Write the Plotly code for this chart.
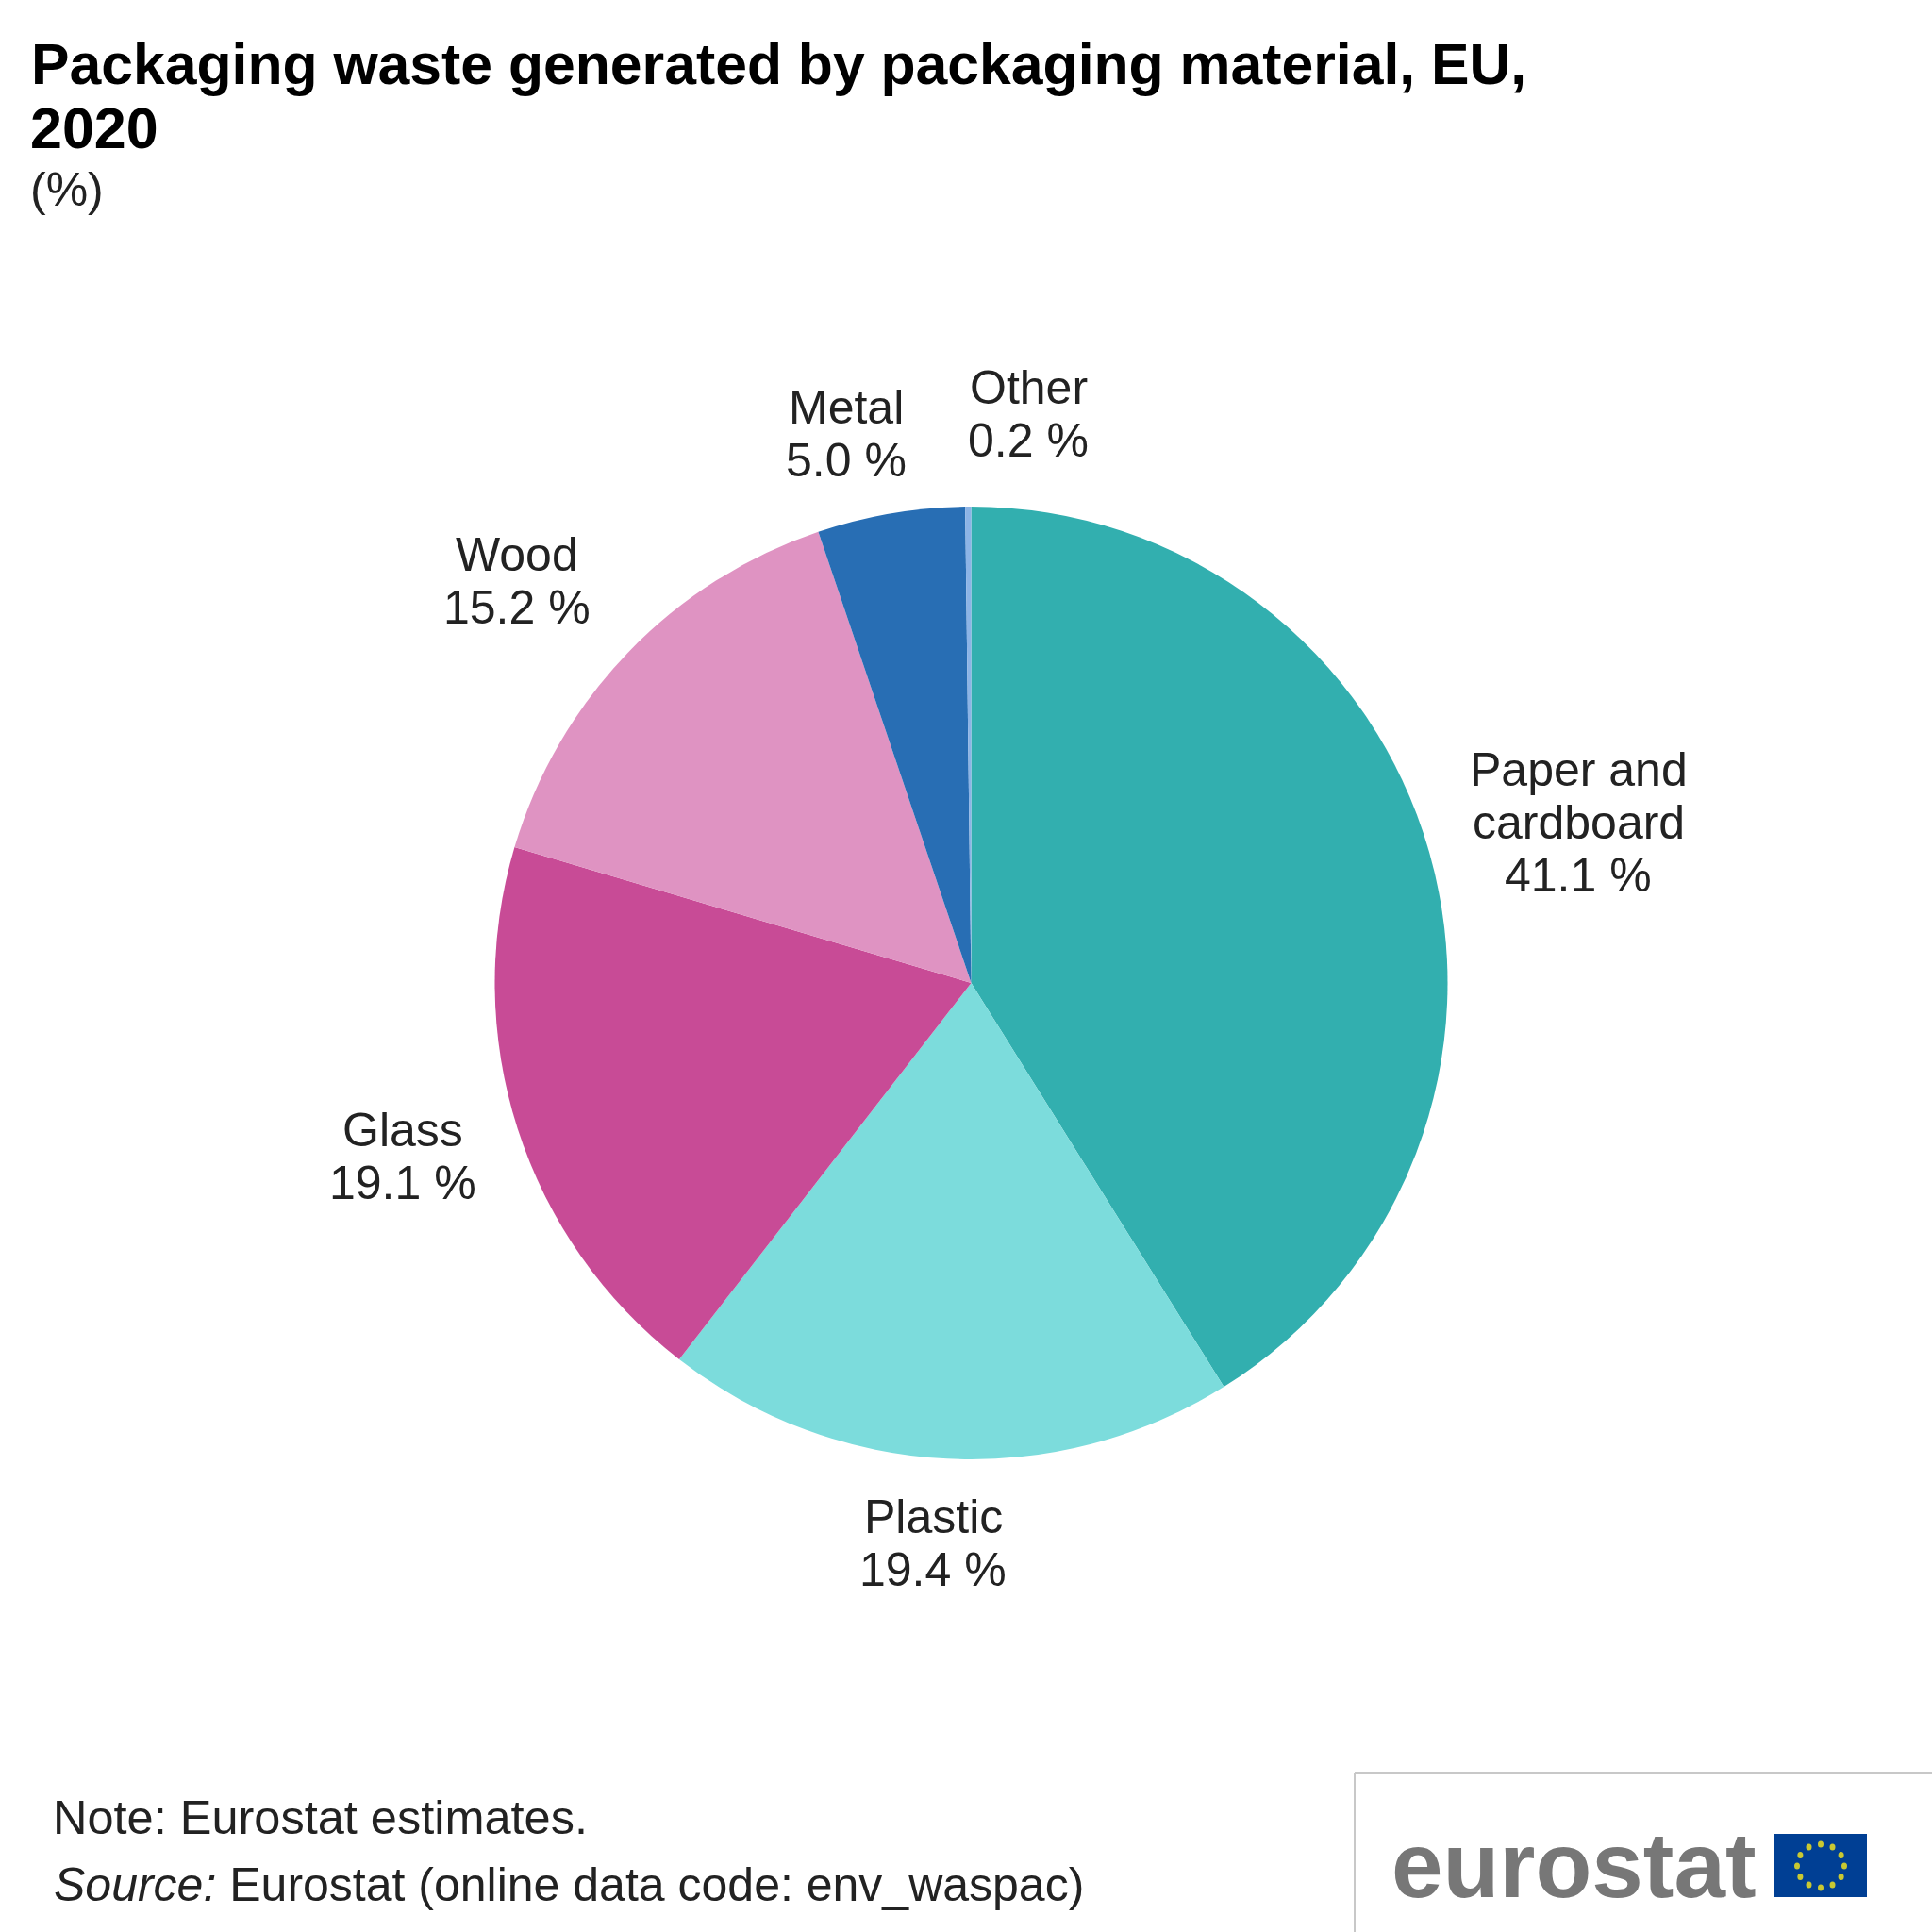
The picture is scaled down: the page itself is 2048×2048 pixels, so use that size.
import math
import plotly.graph_objects as go

SIZE = 2048
categories = ["Paper and<br>cardboard", "Plastic", "Glass", "Wood", "Metal", "Other"]
values = [41.1, 19.4, 19.1, 15.2, 5.0, 0.2]
colors = ["#32afaf", "#7cdcdc", "#c84b96", "#df93c2", "#286eb4", "#8cb4e6"]
label_x = [1673, 989, 427, 548, 897, 1090]
label_y = [872, 1636, 1226, 616, 460, 439]

title_line1 = "Packaging waste generated by packaging material, EU,"
title_line2 = "2020"
unit = "(%)"
note = "Note: Eurostat estimates."
source = "<i>Source:</i> Eurostat (online data code: env_waspac)"

FONT = "Liberation Sans"
cx, cy, r = 1029.5, 1042, 505
LINE = 56


def px(x):
    return x / SIZE


def py(y):
    return 1 - y / SIZE


fig = go.Figure(go.Pie(
    labels=[c.replace("<br>", " ") for c in categories],
    values=values,
    sort=False,
    direction="clockwise",
    rotation=0,
    marker=dict(colors=colors, line=dict(color="#ffffff", width=0)),
    textinfo="none",
    hoverinfo="label+percent",
    domain=dict(x=[px(cx - r), px(cx + r)], y=[py(cy + r), py(cy - r)]),
    showlegend=False,
))

annotations = []
for c, v, x, y in zip(categories, values, label_x, label_y):
    lines = c.split("<br>") + [f"{v:.1f} %"]
    top = y - LINE * (len(lines) - 1) / 2
    for i, line in enumerate(lines):
        annotations.append(dict(
            x=px(x), y=py(top + i * LINE), xref="paper", yref="paper",
            xanchor="center", yanchor="middle",
            text=line, showarrow=False, align="center",
            font=dict(family=FONT, size=50, color="#222222"),
        ))


def text(x, y, s, size, color="#222222"):
    annotations.append(dict(
        x=px(x), y=py(y), xref="paper", yref="paper", xanchor="left", yanchor="middle",
        text=s, showarrow=False, align="left", font=dict(family=FONT, size=size, color=color),
    ))


text(30, 136, f"<b>{title_line2}</b>", 61, "#000000")
text(30, 201, unit, 50)
text(54, 1926, note, 50.5)
text(55, 1998, source, 50)
text(1473, 1977, "<b>eurostat</b>", 98, "#777777")

shapes = [
    dict(type="line", xref="paper", yref="paper", x0=px(1436), x1=px(1436), y0=py(1879), y1=0,
         line=dict(color="#c8c8c8", width=2)),
    dict(type="line", xref="paper", yref="paper", x0=px(1436), x1=1, y0=py(1879), y1=py(1879),
         line=dict(color="#c8c8c8", width=2)),
    dict(type="rect", xref="paper", yref="paper", x0=px(1880), x1=px(1979), y0=py(1944), y1=py(2011),
         fillcolor="#003f94", line=dict(width=0)),
]
for i in range(12):
    a = math.radians(i * 30)
    sx, sy = 1930 + 25 * math.sin(a), 1978 - 23 * math.cos(a)
    shapes.append(dict(type="circle", xref="paper", yref="paper",
                       x0=px(sx - 3), x1=px(sx + 3), y0=py(sy + 3.5), y1=py(sy - 3.5),
                       fillcolor="#c8c832", line=dict(width=0)))

fig.update_layout(
    width=SIZE, height=SIZE, autosize=False,
    margin=dict(l=0, r=0, t=0, b=0),
    paper_bgcolor="#ffffff", plot_bgcolor="#ffffff",
    title=dict(text=f"<b>{title_line1}</b>", x=px(33), xanchor="left", y=py(68), yanchor="middle",
               font=dict(family=FONT, size=60.7, color="#000000")),
    annotations=annotations,
    shapes=shapes,
)
fig.write_html("out.html", config=dict(displayModeBar=False),
               post_script="document.body.style.margin='0';")
